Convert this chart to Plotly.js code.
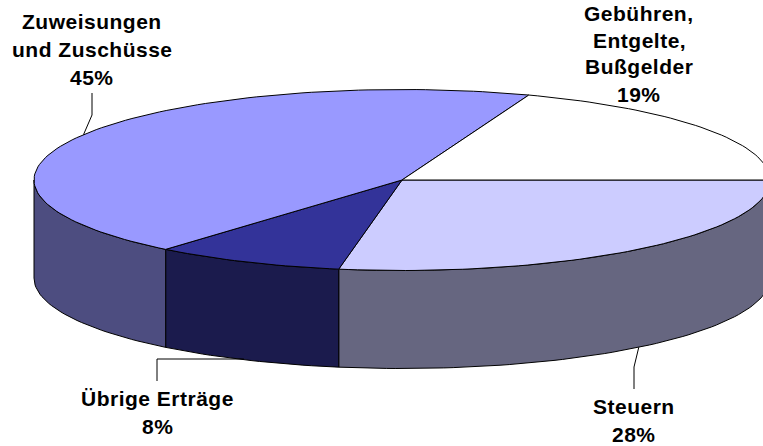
<!DOCTYPE html>
<html>
<head>
<meta charset="utf-8">
<script src="https://cdn.plot.ly/plotly-3.0.1.min.js"></script>
<style>html,body{margin:0;padding:0;background:#fff;overflow:hidden}#chart{width:763px;height:446px}
.annotation-text{letter-spacing:.5px}</style>
</head>
<body>
<div id="chart"></div>
<script>
// Data, clockwise from the right-hand end of the ellipse
const categories = ["Steuern", "Übrige Erträge", "Zuweisungen und Zuschüsse", "Gebühren, Entgelte, Bußgelder"];
const shares = [27.75, 8.35, 44.5, 19.4];
const percentLabels = ["28%", "8%", "45%", "19%"];
const labelLines = [["Steuern"], ["Übrige Erträge"], ["Zuweisungen", "und Zuschüsse"], ["Gebühren,", "Entgelte,", "Bußgelder"]];
const topColors = ["#CCCCFF", "#333399", "#9999FF", "#FFFFFF"];
const sideColors = ["#666680", "#1B1B4D", "#4D4D80", "#808080"];

// Pie geometry, in the plot's pixel-like axis units
const cx = 402, cy = 180, rx = 368, ry = 90.5, depth = 98;
const pt = (deg, dy = 0) => {
  const a = deg * Math.PI / 180;
  return [cx + rx * Math.cos(a), cy + ry * Math.sin(a) + dy];
};
const arc = (from, to, dy = 0) => {
  const out = [];
  const n = Math.max(2, Math.ceil(Math.abs(to - from) / 1.5));
  for (let i = 0; i <= n; i++) out.push(pt(from + (to - from) * i / n, dy));
  return out;
};
const total = shares.reduce((a, b) => a + b, 0);
let running = 0;
const slices = shares.map((v, i) => {
  const start = running / total * 360;
  running += v;
  return { i, start, end: running / total * 360, mid: (start + running / total * 360) / 2 };
});
const polyTrace = (points, fillcolor) => ({
  type: "scatter", mode: "lines",
  x: points.map(p => p[0]), y: points.map(p => p[1]),
  fill: "toself", fillcolor,
  line: { color: "#000000", width: 1 },
  hoverinfo: "skip", showlegend: false
});

const traces = [];
// Side walls (only the front half, 0..180 degrees, is visible)
slices.forEach(s => {
  const a = Math.max(s.start, 0), b = Math.min(s.end, 180);
  if (a >= b) return;
  const pts = arc(a, b, 0).concat(arc(b, a, depth));
  pts.push(pts[0]);
  traces.push(polyTrace(pts, sideColors[s.i]));
});
// Top faces
slices.forEach(s => {
  const pts = [[cx, cy]].concat(arc(s.start, s.end), [[cx, cy]]);
  traces.push(polyTrace(pts, topColors[s.i]));
});

// Leader lines begin on the rim at each slice's mid-angle
const leaderPath = (i) => {
  const m = slices[i].mid;
  const front = m < 180;
  const p = pt(m, front ? depth : 0);
  if (i === 0) return [p, [634, 367], [634, 389]];
  if (i === 1) return [[p[0] - 3, 359], [157, 359], [157, 381]];
  if (i === 2) return [p, [92, 115], [92, 93]];
  return null;
};
[0, 1, 2].forEach(i => {
  const path = leaderPath(i);
  traces.push({
    type: "scatter", mode: "lines",
    x: path.map(p => p[0]), y: path.map(p => p[1]),
    line: { color: "#000000", width: 1 },
    hoverinfo: "skip", showlegend: false
  });
});

// Labels: each line placed on its own to reproduce the wide line spacing
const labelAnchor = [
  { x: 634, ys: [406.5, 434] },
  { x: 157, ys: [398.5, 426] },
  { x: 92,  ys: [21.5, 49, 77.5] },
  { x: 639, ys: [13.5, 40, 66.5, 94] }
];
const annotations = [];
labelLines.forEach((lines, i) => {
  lines.concat(percentLabels[i]).forEach((text, j) => {
    annotations.push({
      x: labelAnchor[i].x, y: labelAnchor[i].ys[j], xref: "x", yref: "y",
      text: "<b>" + text + "</b>", showarrow: false,
      xanchor: "center", yanchor: "middle",
      font: { family: "Liberation Sans, Arial, sans-serif", size: 21, color: "#000000" }
    });
  });
});

const hiddenAxis = range => ({
  range, visible: false, showgrid: false, zeroline: false, fixedrange: true
});
Plotly.newPlot("chart", traces, {
  width: 763, height: 446,
  margin: { l: 0, r: 0, t: 0, b: 0, pad: 0 },
  paper_bgcolor: "#FFFFFF", plot_bgcolor: "#FFFFFF",
  xaxis: hiddenAxis([0, 763]),
  yaxis: hiddenAxis([446, 0]),
  showlegend: false,
  annotations
}, { displayModeBar: false, staticPlot: true });
</script>
</body>
</html>
